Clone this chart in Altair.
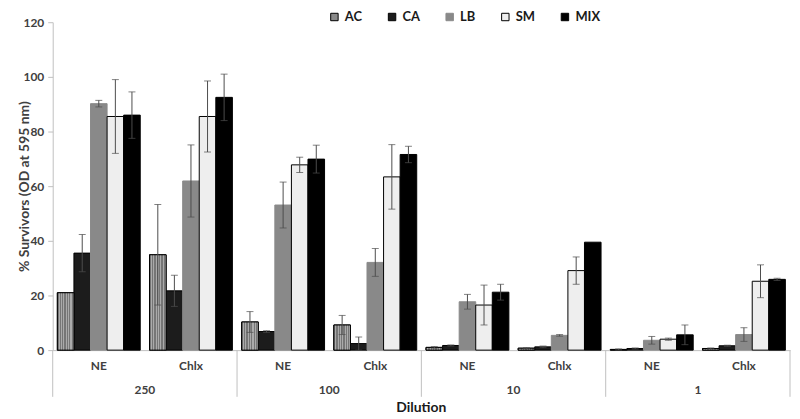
import altair as alt
import pandas as pd

# ---------------- data ----------------
dilutions = ["250", "100", "10", "1"]
treatments = ["NE", "Chlx"]
series = ["AC", "CA", "LB", "SM", "MIX"]

# mean % survivors, per dilution / treatment, in series order AC, CA, LB, SM, MIX
mean_250_ne = [21.0, 35.5, 90.2, 85.5, 86.0]
mean_250_chlx = [34.9, 21.7, 61.9, 85.5, 92.5]
mean_100_ne = [10.3, 6.8, 53.1, 67.8, 69.9]
mean_100_chlx = [9.2, 2.4, 32.1, 63.4, 71.6]
mean_10_ne = [1.0, 1.7, 17.7, 16.5, 21.2]
mean_10_chlx = [0.7, 1.2, 5.4, 29.1, 39.5]
mean_1_ne = [0.25, 0.6, 3.6, 4.0, 5.6]
mean_1_chlx = [0.6, 1.6, 5.7, 25.2, 25.9]

# error bar half-lengths
err_250_ne = [0.0, 6.8, 1.2, 13.5, 8.5]
err_250_chlx = [18.4, 5.7, 13.2, 13.0, 8.5]
err_100_ne = [3.8, 0.3, 8.4, 2.8, 5.1]
err_100_chlx = [3.5, 2.4, 5.1, 11.8, 3.0]
err_10_ne = [0.3, 0.2, 2.7, 7.3, 2.9]
err_10_chlx = [0.2, 0.3, 0.3, 5.0, 0.0]
err_1_ne = [0.2, 0.2, 1.4, 0.4, 3.6]
err_1_chlx = [0.2, 0.2, 2.5, 6.0, 0.4]

y_ticks = [0, 20, 40, 60, 80, 100, 120]

groups = [
    ("250", "NE", mean_250_ne, err_250_ne),
    ("250", "Chlx", mean_250_chlx, err_250_chlx),
    ("100", "NE", mean_100_ne, err_100_ne),
    ("100", "Chlx", mean_100_chlx, err_100_chlx),
    ("10", "NE", mean_10_ne, err_10_ne),
    ("10", "Chlx", mean_10_chlx, err_10_chlx),
    ("1", "NE", mean_1_ne, err_1_ne),
    ("1", "Chlx", mean_1_chlx, err_1_chlx),
]

rows = []
for d, t, ms, es in groups:
    for s, m, e in zip(series, ms, es):
        rows.append({"key": f"{d}|{t}", "series": s, "mean": m, "err": e,
                     "lo": max(m - e, 0), "hi": m + e})
df = pd.DataFrame(rows)
keys = [f"{d}|{t}" for d in dilutions for t in treatments]

# ---------------- styling ----------------
FONT = "Lato"
TXT = "#404040"
AXC = "#bfbfbf"
ERRC = "#4d4d4d"
W, H = 742, 330

fills = ["#8a8a8a", "#1c1c1c", "#898989", "#eeeeee", "#000000"]
strokes = ["#000000", "#000000", "#8a8a8a", "#000000", "#000000"]

# vertical stripes for AC
stops = []
n = 7
for i in range(n):
    a, b = i / n, (i + 0.55) / n
    c = (i + 1) / n
    stops += [{"offset": a, "color": "#767676"}, {"offset": b, "color": "#767676"},
              {"offset": b, "color": "#ababab"}, {"offset": c, "color": "#ababab"}]
stripe = {"gradient": "linear", "x1": 0, "y1": 0, "x2": 1, "y2": 0, "stops": stops}


def make_x(bp=None):
    kw = {}
    if bp is not None:
        kw["bandPosition"] = bp
    return alt.X(
        "key:N", sort=keys,
        scale=alt.Scale(domain=keys, paddingInner=0, paddingOuter=0),
        axis=alt.Axis(title=None, labelExpr="split(datum.value, '|')[1]",
                      ticks=False, domainColor=AXC, labelFont=FONT,
                      labelFontSize=12, labelFontWeight="bold", labelColor=TXT,
                      labelPadding=10, labelAngle=0),
        **kw)


xoff = alt.XOffset("series:N", sort=series,
                   scale=alt.Scale(domain=series, paddingInner=0, paddingOuter=0.28))

y_enc = alt.Y(
    "mean:Q",
    scale=alt.Scale(domain=[0, 120], nice=False),
    axis=alt.Axis(values=y_ticks, grid=False, domainColor=AXC, tickColor=AXC,
                  tickSize=5, labelFont=FONT, labelFontSize=12,
                  labelFontWeight="bold", labelColor=TXT, labelPadding=4,
                  title="% Survivors (OD at 595 nm)", titleX=-28, titleY=H / 2,
                  titleAngle=270, titleAlign="center", titleBaseline="middle",
                  titleFont=FONT, titleFontSize=14, titleFontWeight="bold",
                  titleColor=TXT),
)

leg = alt.Legend(title=None, orient="none", legendX=277, legendY=-12,
                 direction="horizontal", symbolType="square", symbolSize=56,
                 symbolStrokeWidth=1, labelFont=FONT, labelFontSize=13,
                 labelFontWeight="bold", labelColor="#1a1a1a", labelOffset=4,
                 columnPadding=23, padding=0)

base = alt.Chart(df)

bars = base.mark_bar(strokeWidth=1).encode(
    x=make_x(), xOffset=xoff, y=y_enc,
    fill=alt.Fill("series:N", sort=series,
                  scale=alt.Scale(domain=series, range=fills), legend=leg),
    stroke=alt.Stroke("series:N", sort=series,
                      scale=alt.Scale(domain=series, range=strokes), legend=leg),
)

ac_bars = base.transform_filter("datum.series == 'AC'").mark_bar(
    fill=stripe, stroke="#000000", strokeWidth=1
).encode(x=make_x(), xOffset=xoff, y="mean:Q")

eb = base.transform_filter("datum.err > 0")
err_rule = eb.mark_rule(color=ERRC, strokeWidth=1).encode(
    x=make_x(), xOffset=xoff, y="lo:Q", y2="hi:Q")
cap_hi = eb.mark_tick(color=ERRC, thickness=1, size=7, orient="horizontal").encode(
    x=make_x(), xOffset=xoff, y="hi:Q")
cap_lo = eb.mark_tick(color=ERRC, thickness=1, size=7, orient="horizontal").encode(
    x=make_x(), xOffset=xoff, y="lo:Q")

sep_df = pd.DataFrame({"key": [f"{d}|NE" for d in dilutions], "label": dilutions})
sep_left = alt.Chart(sep_df).mark_rule(color=AXC, strokeWidth=1).encode(
    x=make_x(0), y=alt.value(H), y2=alt.value(H + 47))
sep_right = alt.Chart(pd.DataFrame({"key": ["1|Chlx"]})).mark_rule(
    color=AXC, strokeWidth=1).encode(x=make_x(1), y=alt.value(H), y2=alt.value(H + 47))

outer = alt.Chart(sep_df).mark_text(
    font=FONT, fontSize=12, fontWeight="bold", color=TXT, baseline="middle"
).encode(x=make_x(1), y=alt.value(H + 40), text="label:N")

title_x = alt.Chart(pd.DataFrame({"t": ["Dilution"]})).mark_text(
    font=FONT, fontSize=14, fontWeight="bold", color="#1a1a1a", baseline="middle"
).encode(x=alt.value(W / 2), y=alt.value(H + 58), text="t:N")

chart = alt.layer(
    bars, ac_bars, err_rule, cap_hi, cap_lo, sep_left, sep_right, outer, title_x
).properties(
    width=W, height=H,
    padding={"left": 45, "top": 13, "right": 2, "bottom": 67},
    autosize=alt.AutoSizeParams(type="none"),
    background="white",
).configure_view(stroke=None)

chart.save("out.html", embed_options={"renderer": "svg", "actions": False})
